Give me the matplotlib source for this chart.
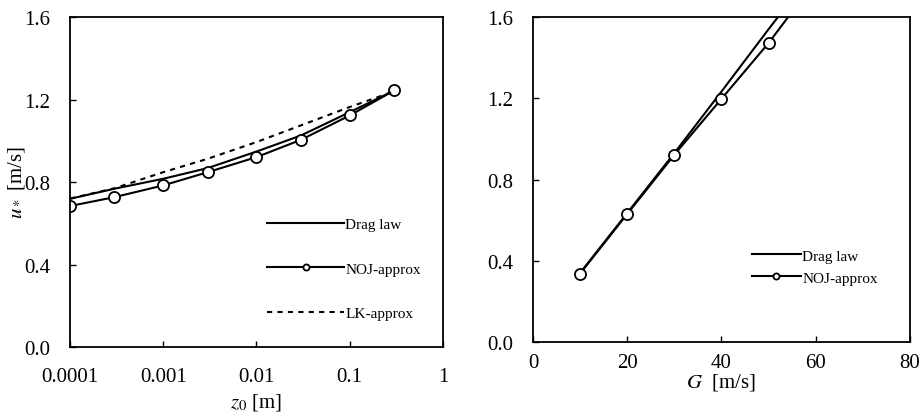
import numpy as np
import matplotlib.pyplot as plt

plt.rcParams['font.family'] = ['Liberation Serif', 'DejaVu Serif']
plt.rcParams['mathtext.fontset'] = 'stix'

# left panel: u* vs z0
z0 = [0.0001, 0.0003, 0.001, 0.003, 0.01, 0.03, 0.1, 0.3]
drag_z = [0.719, 0.768, 0.816, 0.868, 0.948, 1.026, 1.139, 1.244]
noj_z = [0.684, 0.727, 0.784, 0.848, 0.921, 1.005, 1.123, 1.244]
lk_z = [0.72, 0.77, 0.848, 0.913, 0.994, 1.075, 1.164, 1.24]

# right panel: u* vs G
G = [10, 20, 30, 40, 50, 60]
drag_g = [0.34, 0.635, 0.93, 1.233, 1.54, 1.84]
noj_g = [0.337, 0.630, 0.922, 1.197, 1.472, 1.78]

y_ticks = [0.0, 0.4, 0.8, 1.2, 1.6]
z_ticks = [0.0001, 0.001, 0.01, 0.1, 1]
z_labels = ['0.0001', '0.001', '0.01', '0.1', '1']
g_ticks = [0, 20, 40, 60, 80]

fig = plt.figure(figsize=(9.21, 4.14), dpi=100)
ax1 = fig.add_axes([0.076, 0.159, 0.405, 0.7975])
ax2 = fig.add_axes([0.5787, 0.1715, 0.4093, 0.785])

mk = dict(marker='o', markersize=8, markerfacecolor='white',
          markeredgecolor='black', markeredgewidth=1.3)

ax1.plot(z0, drag_z, color='black', lw=1.5, label='Drag law')
ax1.plot(z0, noj_z, color='black', lw=1.5, label='NOJ-approx', **mk)
ax1.plot(z0, lk_z, color='black', lw=1.5, ls=(0, (2.5, 2.5)), label='LK-approx')
ax1.set_xscale('log')
ax1.set_xlim(0.0001, 1)
ax1.set_ylim(0, 1.6)
ax1.set_xticks(z_ticks)
ax1.set_xticklabels(z_labels)
ax1.minorticks_off()
ax1.set_yticks(y_ticks)
ax1.set_yticklabels([f'{v:.1f}' for v in y_ticks])
ax1.set_xlabel('$z_0$ [m]', fontsize=15, labelpad=4)
ax1.set_ylabel('$u_*$ [m/s]', fontsize=15, labelpad=-2)
ax1.legend(loc='upper left', bbox_to_anchor=(0.509, 0.415), frameon=False,
           fontsize=11, handlelength=5.0, handletextpad=0.1,
           labelspacing=2.0, borderpad=0, markerscale=0.55)
ax1.tick_params(axis='x', pad=14)

ax2.plot(G, drag_g, color='black', lw=1.5, label='Drag law')
ax2.plot(G, noj_g, color='black', lw=1.5, label='NOJ-approx', **mk)
ax2.set_xlim(0, 80)
ax2.set_ylim(0, 1.6)
ax2.set_xticks(g_ticks)
ax2.set_yticks(y_ticks)
ax2.set_yticklabels([f'{v:.1f}' for v in y_ticks])
ax2.set_xlabel('$G$  [m/s]', fontsize=15, labelpad=-1)
ax2.legend(loc='upper left', bbox_to_anchor=(0.56, 0.31), frameon=False,
           fontsize=11, handlelength=3.2, handletextpad=0.1,
           labelspacing=0.55, borderpad=0, markerscale=0.55)
ax2.tick_params(axis='x', pad=8)

for ax in (ax1, ax2):
    ax.tick_params(direction='in', length=4, width=1, labelsize=15)
    ax.tick_params(axis='y', pad=14)
    for s in ax.spines.values():
        s.set_linewidth(1.3)

fig.savefig('out.png', dpi=100)
